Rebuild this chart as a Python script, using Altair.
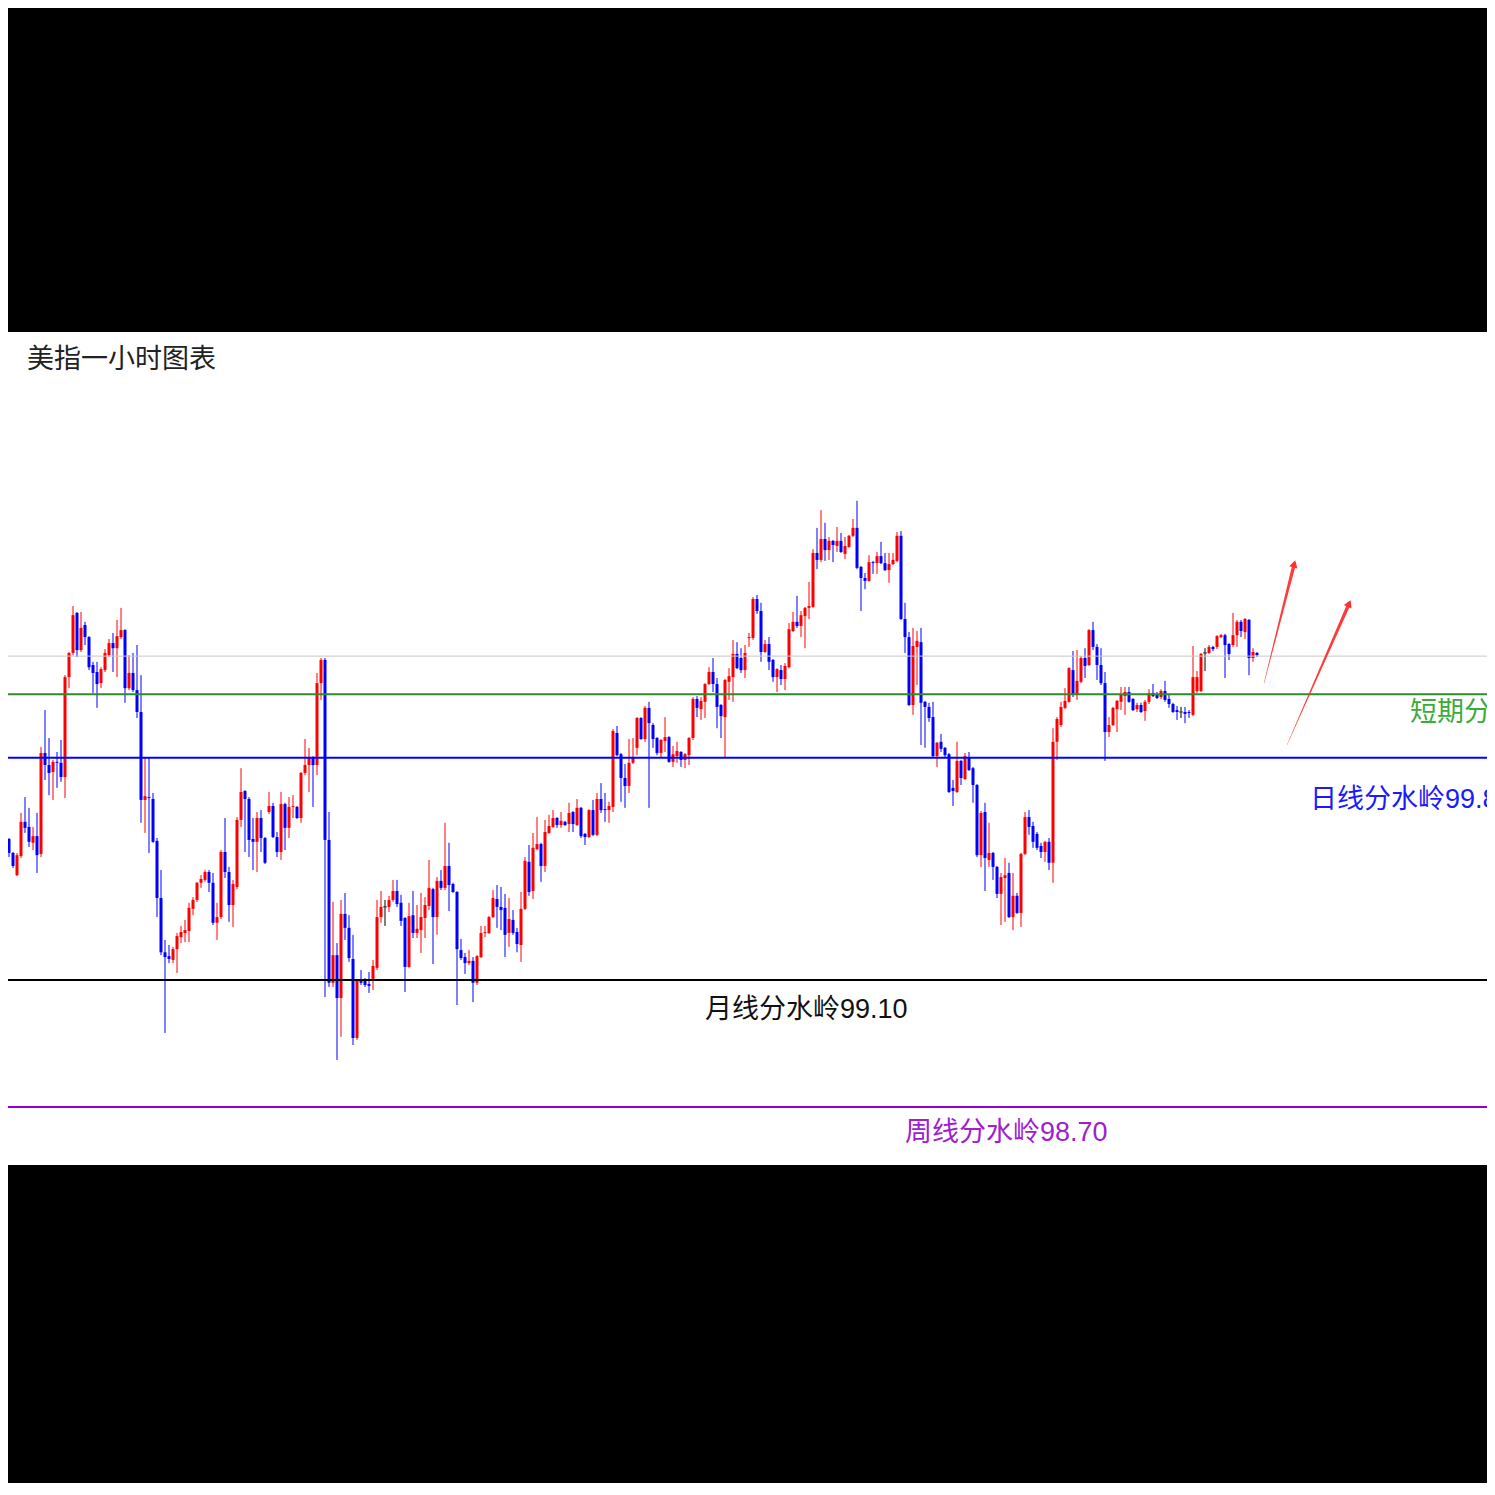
import math
import altair as alt
import numpy as np
import pandas as pd

# ---------------- data ----------------
opens = [
    99.525, 99.566, 99.544, 99.500, 99.430, 99.490, 99.598, 99.582, 99.532, 99.553,
    99.497, 99.815, 99.777, 99.755, 99.787, 99.784, 99.739, 100.054, 100.130, 100.256,
    100.139, 100.218, 100.180, 100.092, 100.070, 100.035, 100.076, 100.123, 100.161, 100.145,
    100.180, 100.202, 100.019, 100.067, 100.013, 99.944, 99.667, 99.676, 99.670, 99.538,
    99.358, 99.187, 99.175, 99.163, 99.197, 99.235, 99.248, 99.254, 99.324, 99.352,
    99.406, 99.415, 99.440, 99.406, 99.280, 99.298, 99.503, 99.440, 99.336, 99.393,
    99.604, 99.695, 99.670, 99.544, 99.535, 99.610, 99.547, 99.629, 99.648, 99.550,
    99.503, 99.654, 99.579, 99.645, 99.645, 99.610, 99.752, 99.777, 99.802, 99.777,
    100.035, 100.108, 99.541, 99.091, 99.178, 99.043, 99.308, 99.264, 99.166, 98.917,
    99.100, 99.103, 99.087, 99.097, 99.138, 99.298, 99.330, 99.330, 99.352, 99.380,
    99.343, 99.295, 99.141, 99.304, 99.248, 99.257, 99.295, 99.333, 99.386, 99.298,
    99.412, 99.390, 99.459, 99.402, 99.377, 99.194, 99.172, 99.153, 99.160, 99.091,
    99.172, 99.248, 99.248, 99.298, 99.355, 99.330, 99.327, 99.248, 99.289, 99.251,
    99.210, 99.324, 99.472, 99.380, 99.512, 99.528, 99.459, 99.563, 99.582, 99.610,
    99.588, 99.598, 99.591, 99.629, 99.588, 99.642, 99.560, 99.550, 99.635, 99.557,
    99.670, 99.638, 99.635, 99.645, 99.878, 99.811, 99.736, 99.711, 99.784, 99.831,
    99.925, 99.859, 99.957, 99.903, 99.862, 99.815, 99.853, 99.865, 99.787, 99.805,
    99.818, 99.793, 99.808, 99.862, 99.985, 99.953, 99.976, 100.032, 100.070, 100.032,
    99.966, 99.928, 100.039, 100.054, 100.127, 100.114, 100.076, 100.177, 100.177, 100.300,
    100.262, 100.133, 100.158, 100.108, 100.054, 100.076, 100.048, 100.085, 100.199, 100.228,
    100.215, 100.246, 100.272, 100.275, 100.445, 100.423, 100.489, 100.454, 100.483, 100.467,
    100.483, 100.442, 100.464, 100.499, 100.524, 100.401, 100.366, 100.357, 100.416, 100.413,
    100.435, 100.413, 100.391, 100.410, 100.420, 100.499, 100.237, 100.180, 99.966, 100.149,
    100.164, 99.976, 99.960, 99.928, 99.805, 99.850, 99.831, 99.811, 99.705, 99.692,
    99.790, 99.733, 99.802, 99.767, 99.714, 99.493, 99.629, 99.478, 99.500, 99.456,
    99.371, 99.421, 99.437, 99.298, 99.365, 99.311, 99.497, 99.613, 99.585, 99.560,
    99.522, 99.503, 99.535, 99.469, 99.850, 99.903, 99.957, 99.976, 100.076, 100.001,
    100.039, 100.114, 100.092, 100.202, 100.149, 100.092, 100.035, 99.881, 99.903, 99.953,
    99.976, 99.994, 100.007, 99.985, 99.953, 99.966, 99.947, 99.976, 100.004, 99.998,
    99.991, 100.010, 99.985, 99.969, 99.950, 99.944, 99.944, 99.944, 99.935, 100.010,
    100.010, 100.130, 100.130, 100.149, 100.149, 100.180, 100.186, 100.158, 100.155, 100.186,
    100.228, 100.196, 100.234, 100.114, 100.130,
]
highs = [
    99.582, 99.572, 99.547, 99.503, 99.500, 99.626, 99.676, 99.642, 99.582, 99.626,
    99.834, 99.950, 99.862, 99.793, 99.818, 99.856, 100.060, 100.133, 100.278, 100.259,
    100.259, 100.228, 100.183, 100.102, 100.102, 100.085, 100.142, 100.174, 100.193, 100.234,
    100.272, 100.205, 100.123, 100.130, 100.155, 100.060, 99.799, 99.802, 99.689, 99.547,
    99.446, 99.226, 99.210, 99.204, 99.248, 99.270, 99.289, 99.343, 99.361, 99.409,
    99.430, 99.446, 99.446, 99.437, 99.343, 99.509, 99.610, 99.456, 99.415, 99.613,
    99.767, 99.698, 99.676, 99.610, 99.629, 99.635, 99.550, 99.692, 99.658, 99.566,
    99.692, 99.658, 99.676, 99.682, 99.648, 99.755, 99.859, 99.831, 99.805, 100.067,
    100.114, 100.114, 99.629, 99.346, 99.216, 99.352, 99.374, 99.304, 99.242, 99.103,
    99.131, 99.106, 99.125, 99.163, 99.352, 99.380, 99.352, 99.365, 99.415, 99.415,
    99.368, 99.298, 99.343, 99.380, 99.336, 99.374, 99.361, 99.478, 99.390, 99.424,
    99.446, 99.595, 99.532, 99.406, 99.380, 99.229, 99.185, 99.194, 99.172, 99.178,
    99.270, 99.270, 99.301, 99.383, 99.399, 99.393, 99.371, 99.358, 99.320, 99.264,
    99.377, 99.487, 99.525, 99.563, 99.613, 99.532, 99.604, 99.620, 99.635, 99.613,
    99.629, 99.601, 99.658, 99.632, 99.670, 99.645, 99.563, 99.638, 99.667, 99.689,
    99.720, 99.689, 99.661, 99.890, 99.900, 99.815, 99.780, 99.859, 99.862, 99.928,
    99.928, 99.963, 99.976, 99.909, 99.865, 99.859, 99.928, 99.868, 99.837, 99.850,
    99.821, 99.815, 99.865, 99.991, 99.994, 99.991, 100.035, 100.085, 100.114, 100.051,
    99.969, 100.048, 100.082, 100.171, 100.164, 100.145, 100.155, 100.193, 100.306, 100.313,
    100.288, 100.171, 100.180, 100.111, 100.082, 100.092, 100.098, 100.224, 100.259, 100.310,
    100.262, 100.275, 100.354, 100.457, 100.524, 100.580, 100.540, 100.495, 100.486, 100.527,
    100.508, 100.495, 100.502, 100.552, 100.609, 100.404, 100.382, 100.438, 100.420, 100.448,
    100.480, 100.445, 100.445, 100.445, 100.511, 100.514, 100.288, 100.196, 100.209, 100.199,
    100.209, 99.979, 99.973, 99.976, 99.850, 99.875, 99.834, 99.815, 99.730, 99.850,
    99.793, 99.815, 99.818, 99.771, 99.717, 99.632, 99.658, 99.595, 99.503, 99.459,
    99.437, 99.484, 99.469, 99.437, 99.374, 99.500, 99.629, 99.635, 99.598, 99.566,
    99.532, 99.538, 99.547, 99.893, 99.928, 99.976, 100.019, 100.085, 100.136, 100.139,
    100.120, 100.145, 100.205, 100.228, 100.158, 100.145, 100.070, 99.928, 99.960, 99.982,
    100.023, 100.023, 100.023, 99.988, 99.973, 99.973, 99.982, 100.016, 100.032, 100.007,
    100.016, 100.042, 99.998, 99.973, 99.963, 99.960, 99.960, 99.950, 100.152, 100.073,
    100.130, 100.145, 100.155, 100.152, 100.186, 100.190, 100.190, 100.161, 100.256, 100.234,
    100.234, 100.240, 100.237, 100.145, 100.133,
]
lows = [
    99.516, 99.535, 99.487, 99.453, 99.427, 99.484, 99.563, 99.519, 99.509, 99.437,
    99.487, 99.730, 99.682, 99.667, 99.705, 99.724, 99.673, 100.019, 100.123, 100.117,
    100.133, 100.155, 100.076, 100.004, 99.957, 100.019, 100.070, 100.117, 100.070, 100.054,
    100.174, 99.973, 100.013, 100.007, 99.925, 99.595, 99.563, 99.500, 99.532, 99.298,
    99.178, 98.933, 99.153, 99.153, 99.122, 99.216, 99.219, 99.219, 99.304, 99.346,
    99.390, 99.409, 99.377, 99.273, 99.226, 99.292, 99.421, 99.283, 99.267, 99.386,
    99.582, 99.503, 99.487, 99.446, 99.440, 99.503, 99.465, 99.623, 99.547, 99.487,
    99.478, 99.509, 99.547, 99.610, 99.607, 99.595, 99.745, 99.692, 99.645, 99.745,
    99.982, 99.046, 99.078, 99.078, 98.848, 98.921, 99.226, 99.157, 98.895, 98.911,
    99.084, 99.078, 99.059, 99.068, 99.131, 99.280, 99.270, 99.314, 99.346, 99.330,
    99.270, 99.062, 99.138, 99.232, 99.232, 99.185, 99.232, 99.320, 99.150, 99.242,
    99.383, 99.383, 99.317, 99.374, 99.021, 99.163, 99.119, 99.147, 99.030, 99.084,
    99.169, 99.235, 99.245, 99.295, 99.264, 99.257, 99.172, 99.204, 99.242, 99.187,
    99.157, 99.320, 99.365, 99.355, 99.509, 99.409, 99.440, 99.560, 99.579, 99.579,
    99.579, 99.585, 99.566, 99.566, 99.585, 99.547, 99.525, 99.547, 99.553, 99.553,
    99.626, 99.598, 99.595, 99.629, 99.805, 99.661, 99.642, 99.689, 99.780, 99.808,
    99.856, 99.850, 99.642, 99.831, 99.808, 99.802, 99.818, 99.784, 99.771, 99.784,
    99.771, 99.767, 99.777, 99.856, 99.928, 99.919, 99.925, 100.029, 100.007, 99.893,
    99.862, 99.802, 99.982, 99.976, 100.079, 100.067, 100.051, 100.149, 100.171, 100.253,
    100.102, 100.130, 100.076, 100.039, 100.007, 100.029, 100.013, 100.082, 100.196, 100.209,
    100.180, 100.145, 100.237, 100.272, 100.394, 100.416, 100.420, 100.423, 100.416, 100.448,
    100.445, 100.426, 100.461, 100.495, 100.394, 100.262, 100.331, 100.354, 100.379, 100.379,
    100.410, 100.388, 100.351, 100.407, 100.416, 100.234, 100.130, 99.963, 99.935, 100.029,
    99.840, 99.831, 99.913, 99.802, 99.771, 99.818, 99.799, 99.689, 99.648, 99.689,
    99.714, 99.730, 99.758, 99.658, 99.487, 99.456, 99.380, 99.456, 99.415, 99.358,
    99.273, 99.283, 99.295, 99.257, 99.308, 99.267, 99.493, 99.557, 99.516, 99.509,
    99.484, 99.472, 99.446, 99.406, 99.793, 99.897, 99.953, 99.973, 99.991, 99.982,
    100.035, 100.051, 100.089, 100.139, 100.045, 100.029, 99.790, 99.865, 99.900, 99.881,
    99.950, 99.935, 99.973, 99.947, 99.944, 99.941, 99.916, 99.969, 99.991, 99.985,
    99.985, 99.976, 99.957, 99.941, 99.919, 99.925, 99.909, 99.925, 99.931, 100.004,
    100.007, 100.073, 100.127, 100.136, 100.142, 100.177, 100.051, 100.108, 100.149, 100.149,
    100.180, 100.174, 100.060, 100.102, 100.117,
]
closes = [
    99.576, 99.541, 99.500, 99.459, 99.493, 99.598, 99.579, 99.535, 99.553, 99.493,
    99.815, 99.777, 99.752, 99.787, 99.784, 99.739, 100.054, 100.130, 100.249, 100.139,
    100.209, 100.180, 100.085, 100.067, 100.032, 100.079, 100.130, 100.161, 100.145, 100.183,
    100.202, 100.019, 100.067, 100.013, 99.944, 99.667, 99.679, 99.673, 99.535, 99.358,
    99.187, 99.172, 99.166, 99.197, 99.238, 99.251, 99.257, 99.327, 99.352, 99.406,
    99.418, 99.440, 99.406, 99.280, 99.298, 99.503, 99.440, 99.336, 99.402, 99.604,
    99.692, 99.670, 99.541, 99.535, 99.610, 99.547, 99.469, 99.648, 99.550, 99.503,
    99.654, 99.579, 99.645, 99.648, 99.610, 99.752, 99.777, 99.802, 99.777, 100.035,
    100.108, 99.541, 99.091, 99.178, 99.043, 99.308, 99.264, 99.169, 98.917, 99.100,
    99.091, 99.084, 99.081, 99.144, 99.298, 99.330, 99.330, 99.352, 99.380, 99.339,
    99.286, 99.141, 99.301, 99.248, 99.261, 99.298, 99.336, 99.390, 99.298, 99.412,
    99.390, 99.459, 99.399, 99.377, 99.197, 99.169, 99.153, 99.160, 99.091, 99.175,
    99.248, 99.251, 99.298, 99.358, 99.330, 99.320, 99.242, 99.292, 99.248, 99.213,
    99.324, 99.475, 99.377, 99.516, 99.528, 99.459, 99.566, 99.585, 99.610, 99.588,
    99.601, 99.588, 99.626, 99.591, 99.642, 99.553, 99.550, 99.635, 99.557, 99.670,
    99.635, 99.635, 99.648, 99.884, 99.808, 99.736, 99.711, 99.784, 99.802, 99.925,
    99.859, 99.957, 99.909, 99.859, 99.815, 99.856, 99.865, 99.787, 99.811, 99.821,
    99.793, 99.811, 99.862, 99.985, 99.957, 99.979, 100.032, 100.070, 100.032, 99.960,
    99.931, 100.045, 100.057, 100.127, 100.082, 100.076, 100.130, 100.180, 100.300, 100.262,
    100.133, 100.158, 100.102, 100.054, 100.079, 100.048, 100.089, 100.205, 100.228, 100.215,
    100.249, 100.272, 100.278, 100.445, 100.423, 100.489, 100.454, 100.483, 100.470, 100.483,
    100.448, 100.467, 100.499, 100.524, 100.398, 100.366, 100.357, 100.416, 100.413, 100.435,
    100.413, 100.391, 100.410, 100.423, 100.499, 100.237, 100.180, 99.966, 100.152, 100.168,
    99.973, 99.960, 99.925, 99.805, 99.847, 99.828, 99.808, 99.692, 99.695, 99.790,
    99.736, 99.805, 99.761, 99.714, 99.493, 99.626, 99.484, 99.500, 99.456, 99.371,
    99.424, 99.430, 99.298, 99.365, 99.311, 99.497, 99.613, 99.582, 99.535, 99.516,
    99.503, 99.535, 99.469, 99.850, 99.922, 99.960, 99.979, 100.082, 100.001, 100.042,
    100.114, 100.089, 100.202, 100.149, 100.092, 100.035, 99.881, 99.903, 99.957, 99.979,
    99.998, 100.007, 99.976, 99.950, 99.966, 99.944, 99.976, 100.004, 99.994, 99.988,
    100.010, 99.982, 99.969, 99.944, 99.944, 99.944, 99.938, 99.941, 100.054, 100.054,
    100.127, 100.130, 100.149, 100.142, 100.183, 100.186, 100.155, 100.127, 100.186, 100.228,
    100.199, 100.237, 100.114, 100.133, 100.123,
]

title_text = "美指一小时图表"
level_prices = [100.12, 100.00, 99.80, 99.10, 98.70]
level_texts = ["", "短期分水岭100.00", "日线分水岭99.80", "月线分水岭99.10", "周线分水岭98.70"]
# arrows: (bar index, price) of the tail and of the tip
arrow_tail = [(315.75, 100.035), (321.5, 99.840)]
arrow_tip = [(323.75, 100.432), (337.75, 100.306)]

# ---------------- layout / style ----------------
W, H = 1479, 833
X_DOMAIN = [1.75, 371.5]
Y_DOMAIN = [98.517, 101.141]
PX_PER_I = W / (X_DOMAIN[1] - X_DOMAIN[0])
PX_PER_P = H / (Y_DOMAIN[1] - Y_DOMAIN[0])

level_colors = ["#c8c8c8", "#2e8b2e", "#0000ff", "#000000", "#9400d3"]
level_widths = [1, 2, 2, 2, 2]
label_colors = [None, "#3cab3c", "#1a1aff", "#111111", "#a020d0"]
label_x = [None, 352.25, 327.25, 176.0, 226.0]
label_dy = [0, 19, 42, 30, 26]
FONT = "Liberation Sans, Noto Sans CJK SC"

xs = alt.Scale(domain=X_DOMAIN, nice=False, zero=False)
ys = alt.Scale(domain=Y_DOMAIN, nice=False, zero=False)

n = len(opens)
assert n == len(highs) == len(lows) == len(closes)
df = pd.DataFrame({"i": np.arange(n), "open": opens, "high": highs, "low": lows, "close": closes})
df["dir"] = np.select([df["close"] > df["open"], df["close"] < df["open"]], ["up", "down"], "flat")

color = alt.Color("dir:N", scale=alt.Scale(domain=["up", "down", "flat"],
                                           range=["#ff0000", "#0000ff", "#000000"]), legend=None)
X = alt.X("i:Q", scale=xs, axis=None)

base = alt.Chart(df)
wicks = base.mark_rule(strokeWidth=1, clip=True).encode(
    x=X, y=alt.Y("low:Q", scale=ys, axis=None), y2="high:Q", color=color)
bodies = base.mark_rule(strokeWidth=3, clip=True).encode(
    x=X, y=alt.Y("open:Q", scale=ys, axis=None), y2="close:Q", color=color)
dojis = base.transform_filter("datum.dir == 'flat'").mark_tick(
    orient="horizontal", thickness=1, size=4, color="#000000", clip=True).encode(
    x=X, y=alt.Y("open:Q", scale=ys, axis=None))

layers = [wicks, bodies, dojis]

# horizontal levels and their labels
for k, p in enumerate(level_prices):
    ldf = pd.DataFrame({"p": [p]})
    layers.append(alt.Chart(ldf).mark_rule(color=level_colors[k], strokeWidth=level_widths[k]).encode(
        y=alt.Y("p:Q", scale=ys, axis=None)))
    if level_texts[k]:
        tdf = pd.DataFrame({"i": [label_x[k]], "p": [p], "t": [level_texts[k]]})
        layers.append(alt.Chart(tdf).mark_text(
            align="left", baseline="middle", dy=label_dy[k], fontSize=27, font=FONT,
            color=label_colors[k], clip=True).encode(
            x=alt.X("i:Q", scale=xs, axis=None), y=alt.Y("p:Q", scale=ys, axis=None), text="t:N"))

# red arrows
for k, (tail, tip) in enumerate(zip(arrow_tail, arrow_tip)):
    dxp = (tip[0] - tail[0]) * PX_PER_I
    dyp = (tip[1] - tail[1]) * PX_PER_P
    length = math.hypot(dxp, dyp)
    ux, uy = dxp / length, dyp / length
    back = 7.0
    head_c = (tip[0] - ux * back / PX_PER_I, tip[1] - uy * back / PX_PER_P)
    adf = pd.DataFrame({"i": [tail[0], head_c[0]], "p": [tail[1], head_c[1]],
                        "w": [0.3, 3.5], "o": [0, 1]})
    layers.append(alt.Chart(adf).mark_trail(color="#ff3030", opacity=0.95).encode(
        x=alt.X("i:Q", scale=xs, axis=None), y=alt.Y("p:Q", scale=ys, axis=None),
        size=alt.Size("w:Q", scale=None, legend=None), order="o:Q"))
    ang = math.degrees(math.atan2(ux, uy))
    hdf = pd.DataFrame({"i": [head_c[0]], "p": [head_c[1]]})
    layers.append(alt.Chart(hdf).mark_point(shape="triangle-up", filled=True, size=70, angle=ang,
                                            color="#ff3030", opacity=1, strokeWidth=0).encode(
        x=alt.X("i:Q", scale=xs, axis=None), y=alt.Y("p:Q", scale=ys, axis=None)))

# title inside the white panel
title = alt.Chart(pd.DataFrame({"t": [title_text]})).mark_text(
    align="left", baseline="middle", fontSize=27, font=FONT, color="#222222").encode(
    x=alt.value(19), y=alt.value(28), text="t:N")
layers.append(title)

chart = alt.layer(*layers).properties(
    width=W, height=H, background="#000000",
    padding={"left": 0, "top": 324, "right": 0, "bottom": 318},
    autosize=alt.AutoSizeParams(type="none"),
).configure_view(fill="#ffffff", stroke=None)

chart.save("out.html", embed_options={"renderer": "svg", "actions": False})
